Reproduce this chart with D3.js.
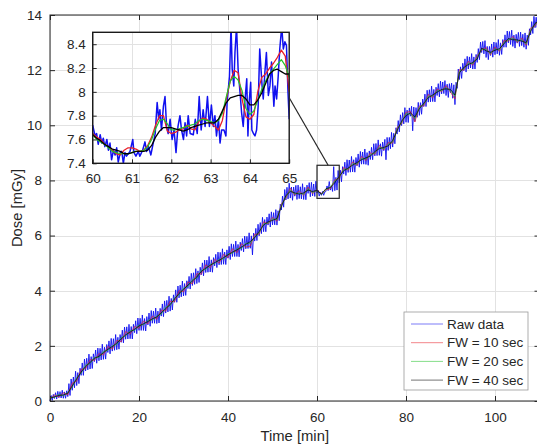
<!DOCTYPE html>
<html>
<meta charset="utf-8">
<style>
  body { margin: 0; background: #fff; }
  svg { display: block; font-family: "Liberation Sans", Arial, sans-serif; }
  .axis text { fill: #262626; font-size: 13.5px; }
  .axis line { stroke: #262626; }
  .axis path { display: none; }
  .grid line { stroke: #e2e2e2; shape-rendering: crispEdges; }
  .grid path { display: none; }
  .trace { fill: none; stroke-linejoin: round; }
</style>
<body>
<svg width="537" height="445"></svg>

<script src="https://d3js.org/d3.v7.min.js"></script>
<script>

// ---- data ----
var xTicks = [0, 20, 40, 60, 80, 100];
var yTicks = [0, 2, 4, 6, 8, 10, 12, 14];
var insetXTicks = [60, 61, 62, 63, 64, 65];
var insetYTicks = [7.4, 7.6, 7.8, 8, 8.2, 8.4];
var legendLabels = ["Raw data", "FW = 10 sec", "FW = 20 sec", "FW = 40 sec"];
var seriesColors = ["#1010f0", "#e8202a", "#22c22a", "#000000"];

// raw dose, one value every 0.25 min from 0 to 110 min (4 per row = 1 min)
var rawDose = [
  0.00,0.20,0.02,0.24, 0.09,0.30,0.07,0.35, 0.12,0.34,0.11,0.39, 0.10,0.33,0.10,0.37,
  0.16,0.63,0.20,0.80, 0.39,0.87,0.48,1.08, 0.56,1.03,0.63,1.19, 0.93,1.38,0.93,1.52,
  1.09,1.55,1.13,1.70, 1.16,1.61,1.18,1.71, 1.43,1.85,1.37,1.92, 1.46,1.91,1.49,2.06,
  1.51,1.95,1.52,2.05, 1.76,2.18,1.71,2.27, 1.81,2.26,1.84,2.41, 1.86,2.31,1.88,2.41,
  2.13,2.57,2.11,2.68, 2.24,2.69,2.25,2.78, 2.26,2.70,2.25,2.78, 2.48,2.91,2.44,3.01,
  2.56,3.00,2.56,3.12, 2.56,2.99,2.54,3.06, 2.76,3.19,2.71,3.28, 2.82,3.26,2.82,3.37,
  2.81,3.26,2.83,3.36, 3.08,3.52,3.06,3.63, 3.19,3.65,3.23,3.80, 3.26,3.72,3.30,3.85,
  3.58,4.03,3.58,4.17, 3.74,4.20,3.78,4.35, 3.81,4.26,3.83,4.36, 4.08,4.52,4.06,4.63,
  4.19,4.65,4.23,4.80, 4.26,4.72,4.30,4.85, 4.58,5.01,4.54,5.11, 4.66,5.11,4.67,5.24,
  4.68,5.12,4.67,5.20, 4.90,5.32,4.84,5.40, 4.94,5.39,4.95,5.52, 4.96,5.40,4.95,5.48,
  5.18,5.61,5.13,5.70, 5.24,5.68,5.24,5.80, 5.24,5.68,5.23,5.76, 5.46,5.89,5.41,5.98,
  5.52,5.97,5.53,6.10, 5.54,5.99,5.30,6.09, 5.80,6.26,5.82,6.41, 5.99,6.47,6.07,6.66,
  6.14,6.58,6.14,6.67, 6.38,6.79,6.31,6.86, 6.39,6.83,6.39,6.94, 6.38,6.90,6.54,7.14,
  6.93,7.43,7.03,7.67, 7.29,7.75,7.33,7.90, 7.36,7.76,7.28,7.76, 7.43,7.82,7.31,7.83,
  7.34,7.77,7.33,7.88, 7.31,7.75,7.30,7.83, 7.53,7.92,7.41,7.93, 7.44,7.87,7.42,7.97,
  7.54,7.65,7.43,7.57, 7.46,7.60,7.46,7.58, 7.60,7.80,7.63,7.96, 7.65,7.80,7.60,8.50,
  7.63,8.11,7.65,8.36, 7.91,8.37,7.95,8.50, 8.23,8.66,8.18,8.75, 8.29,8.74,8.30,8.87,
  8.31,8.75,8.30,8.83, 8.53,8.96,8.48,9.05, 8.59,9.03,8.59,9.14, 8.58,9.01,8.55,9.07,
  8.76,9.20,8.75,9.33, 8.89,9.34,8.90,9.47, 8.91,9.33,8.88,9.39, 9.08,9.49,8.75,9.56,
  9.09,9.56,9.15,9.74, 9.21,9.71,9.33,9.91, 9.68,10.17,9.76,10.38, 9.99,10.46,10.05,10.64,
  10.11,10.55,10.10,10.63, 10.33,10.69,9.80,10.66, 10.14,10.64,10.29,10.83, 10.36,10.82,10.40,10.95,
  10.68,11.13,10.68,11.27, 10.84,11.29,10.85,11.42, 10.86,11.30,10.85,11.38, 11.08,11.51,11.03,11.60,
  11.14,11.57,11.15,11.62, 11.08,11.49,11.01,11.51, 11.18,11.53,10.98,11.47, 10.75,11.56,11.34,12.04,
  11.66,12.12,11.70,12.25, 11.98,12.41,11.93,12.50, 12.04,12.48,12.08,12.60, 12.04,12.48,12.04,12.57,
  12.28,12.78,12.38,13.02, 12.64,13.04,12.59,13.07, 12.46,12.86,12.38,12.86, 12.53,12.95,12.47,13.02,
  12.56,13.00,12.59,13.11, 12.54,12.99,12.57,13.11, 12.83,13.28,12.83,13.42, 12.99,13.40,12.93,13.45,
  12.86,13.27,12.80,13.30, 12.98,13.37,12.86,13.38, 12.89,13.30,12.83,13.35, 12.76,13.27,12.90,13.50,
  13.28,13.76,13.33,13.95, 13.54,13.92,13.55,13.98,
  13.70
];

// filtered dose, one value per minute from 0 to 110 min
var fw10 = [
  0.08,0.22,0.14,0.30,0.22,0.65,0.72,1.15,1.17,1.50,
  1.47,1.72,1.67,1.98,1.88,2.20,2.15,2.52,2.42,2.70,
  2.64,2.90,2.80,3.08,2.96,3.30,3.26,3.62,3.60,4.00,
  3.96,4.32,4.25,4.62,4.60,4.94,4.83,5.14,5.00,5.32,
  5.20,5.52,5.38,5.70,5.58,5.62,6.05,6.05,6.50,6.42,
  6.66,6.52,7.15,7.35,7.72,7.46,7.62,7.46,7.76,7.52,
  7.66,7.52,7.66,7.70,8.02,8.08,8.47,8.37,8.67,8.55,
  8.87,8.72,9.00,8.95,9.27,9.10,9.37,9.35,9.92,10.05,
  10.47,10.50,10.12,10.70,10.70,11.12,11.00,11.32,11.22,11.44,
  11.20,10.95,12.02,12.00,12.32,12.18,12.52,12.72,12.82,12.55,
  12.84,12.68,13.07,13.05,13.22,13.00,13.17,12.90,13.52,13.60,
  13.90
];
var fw20 = [
  0.12,0.13,0.24,0.19,0.31,0.50,0.85,1.01,1.30,1.36,
  1.58,1.58,1.80,1.84,2.00,2.05,2.30,2.36,2.55,2.56,
  2.76,2.76,2.93,2.94,3.08,3.15,3.40,3.46,3.74,3.85,
  4.09,4.15,4.40,4.46,4.74,4.77,4.96,4.98,5.14,5.15,
  5.34,5.36,5.52,5.53,5.72,5.72,5.96,6.10,6.42,6.45,
  6.60,6.58,7.10,7.40,7.65,7.51,7.54,7.50,7.70,7.56,
  7.64,7.49,7.68,7.76,7.98,8.12,8.40,8.41,8.60,8.60,
  8.79,8.78,8.93,9.00,9.20,9.15,9.30,9.40,9.85,10.10,
  10.42,10.40,10.25,10.65,10.76,11.05,11.06,11.25,11.26,11.36,
  11.25,11.05,11.95,12.05,12.25,12.24,12.45,12.76,12.75,12.60,
  12.77,12.73,13.00,13.10,13.15,13.05,13.10,12.95,13.45,13.66,
  13.84
];
var fw40 = [
  0.10,0.15,0.20,0.22,0.28,0.55,0.80,1.05,1.25,1.40,
  1.55,1.62,1.75,1.88,1.97,2.10,2.25,2.40,2.50,2.60,
  2.72,2.80,2.88,2.98,3.05,3.20,3.35,3.50,3.70,3.90,
  4.05,4.20,4.35,4.50,4.70,4.82,4.92,5.02,5.10,5.20,
  5.30,5.40,5.48,5.58,5.68,5.78,5.92,6.15,6.38,6.50,
  6.55,6.62,7.05,7.45,7.60,7.55,7.50,7.55,7.65,7.60,
  7.64,7.50,7.70,7.74,7.92,8.15,8.35,8.45,8.55,8.65,
  8.75,8.82,8.88,9.05,9.15,9.20,9.25,9.45,9.80,10.15,
  10.35,10.45,10.30,10.60,10.80,11.00,11.10,11.20,11.30,11.32,
  11.30,11.10,11.90,12.10,12.20,12.28,12.40,12.80,12.70,12.65,
  12.72,12.78,12.95,13.15,13.10,13.10,13.05,13.00,13.40,13.70,
  13.80
];

// zoomed window 60-65 min: raw samples [time, dose]
var insetRaw = [
  [60.00,7.72],[60.06,7.63],[60.10,7.65],[60.14,7.56],[60.19,7.64],[60.23,7.57],[60.27,7.61],[60.31,7.54],
  [60.36,7.60],[60.40,7.51],[60.44,7.57],[60.48,7.43],[60.53,7.51],[60.57,7.47],[60.61,7.53],[60.65,7.41],
  [60.70,7.49],[60.74,7.50],[60.78,7.40],[60.82,7.49],[60.86,7.46],[60.95,7.50],[61.02,7.60],[61.05,7.49],
  [61.10,7.46],[61.16,7.50],[61.20,7.46],[61.27,7.51],[61.33,7.58],[61.37,7.50],[61.42,7.54],[61.48,7.47],
  [61.54,7.57],[61.59,7.65],[61.64,7.91],[61.68,7.77],[61.71,7.85],[61.75,7.68],[61.80,7.88],[61.84,7.96],
  [61.88,7.71],[61.92,7.65],[61.97,7.77],[62.02,7.60],[62.07,7.68],[62.12,7.49],[62.17,7.71],[62.22,7.80],
  [62.26,7.68],[62.31,7.60],[62.35,7.74],[62.39,7.63],[62.43,7.80],[62.48,7.65],[62.56,7.64],[62.61,7.77],
  [62.66,7.65],[62.71,7.96],[62.76,7.68],[62.81,7.85],[62.86,7.71],[62.92,7.96],[62.97,7.71],[63.02,7.89],
  [63.07,7.71],[63.11,7.80],[63.15,7.63],[63.20,7.77],[63.24,7.57],[63.28,7.68],[63.34,7.68],[63.39,7.63],
  [63.42,7.91],[63.48,8.13],[63.52,8.55],[63.55,8.19],[63.59,8.05],[63.62,8.33],[63.66,8.55],[63.70,8.19],
  [63.75,7.99],[63.79,7.82],[63.83,7.71],[63.87,7.91],[63.92,8.11],[63.95,7.63],[63.98,7.91],[64.02,8.08],
  [64.05,7.68],[64.09,7.65],[64.13,7.63],[64.17,7.68],[64.21,7.88],[64.25,8.36],[64.31,8.05],[64.34,7.94],
  [64.38,8.16],[64.42,8.33],[64.47,7.97],[64.51,8.05],[64.55,8.25],[64.61,7.88],[64.64,8.05],[64.68,7.94],
  [64.72,8.13],[64.76,8.36],[64.81,8.55],[64.85,8.36],[64.89,8.42],[64.93,8.39],[64.97,7.99],[65.00,7.77]
];
// zoomed window filtered values, one every 0.1 min from 60 to 65
var insetFw10 = [
  7.65,7.62,7.60,7.56,7.54,7.51,7.48,7.47,7.51,7.53,
  7.53,7.52,7.50,7.51,7.55,7.62,7.72,7.80,7.80,7.67,
  7.65,7.66,7.68,7.69,7.72,7.69,7.68,7.75,7.78,7.77,
  7.74,7.71,7.68,7.76,7.94,8.09,8.18,8.16,7.94,7.79,
  7.77,7.81,8.00,8.12,8.15,8.20,8.24,8.29,8.35,8.30,
  8.00
];
var insetFw20 = [
  7.64,7.60,7.58,7.56,7.53,7.50,7.49,7.48,7.48,7.48,
  7.49,7.50,7.50,7.51,7.54,7.60,7.69,7.76,7.77,7.73,
  7.68,7.68,7.69,7.70,7.71,7.72,7.73,7.76,7.77,7.76,
  7.75,7.74,7.76,7.82,7.96,8.09,8.13,8.10,8.01,7.86,
  7.81,7.84,7.93,8.02,8.09,8.15,8.19,8.23,8.27,8.22,
  8.12
];
var insetFw40 = [
  7.64,7.61,7.59,7.56,7.54,7.52,7.51,7.50,7.48,7.48,
  7.49,7.50,7.50,7.50,7.51,7.55,7.62,7.67,7.70,7.70,
  7.70,7.69,7.68,7.67,7.68,7.70,7.71,7.72,7.73,7.74,
  7.74,7.74,7.77,7.84,7.91,7.95,7.96,7.97,7.97,7.94,
  7.89,7.89,7.93,7.99,8.07,8.15,8.18,8.19,8.17,8.15,
  8.15
];
var zoomBox = {x: [60, 65], y: [7.35, 8.55]};

// ---- layout ----
var svg = d3.select("svg");
var mLeft = 50, mTop = 15, width = 489.5, height = 386;

var xScale = d3.scaleLinear().domain([0, 110]).range([mLeft, mLeft + width]);
var yScale = d3.scaleLinear().domain([0, 14]).range([mTop + height, mTop]);

var rawT = rawDose.map(function(d, i) { return i * 0.25; });
var fwT = fw40.map(function(d, i) { return i; });

// GRID
svg.append("g").attr("class", "grid")
  .attr("transform", "translate(0," + (mTop + height) + ")")
  .call(d3.axisBottom(xScale).tickValues(xTicks).tickSize(-height).tickFormat(""));
svg.append("g").attr("class", "grid")
  .attr("transform", "translate(" + mLeft + ",0)")
  .call(d3.axisLeft(yScale).tickValues(yTicks).tickSize(-width).tickFormat(""));

// LINES
function drawSeries(g, xs, ys, xsc, ysc, color, w) {
  var line = d3.line()
    .x(function(d, i) { return xsc(xs[i]); })
    .y(function(d) { return ysc(d); });
  g.append("path").datum(ys)
    .attr("class", "trace")
    .attr("d", line)
    .attr("stroke", color)
    .attr("stroke-width", w);
}

drawSeries(svg, rawT, rawDose, xScale, yScale, seriesColors[0], 0.9);
drawSeries(svg, fwT, fw10, xScale, yScale, seriesColors[1], 0.7);
drawSeries(svg, fwT, fw20, xScale, yScale, seriesColors[2], 0.7);
drawSeries(svg, fwT, fw40, xScale, yScale, seriesColors[3], 0.7);

// AXES (ticks inside, box on)
var xAxis = svg.append("g").attr("class", "axis")
  .attr("transform", "translate(0," + (mTop + height) + ")")
  .call(d3.axisBottom(xScale).tickValues(xTicks).tickSize(-5).tickPadding(8).tickFormat(d3.format("d")));
xAxis.selectAll("text").attr("dy", "0.95em");
svg.append("g").attr("class", "axis")
  .attr("transform", "translate(0," + mTop + ")")
  .call(d3.axisTop(xScale).tickValues(xTicks).tickSize(-5).tickFormat(""));
svg.append("g").attr("class", "axis")
  .attr("transform", "translate(" + mLeft + ",0)")
  .call(d3.axisLeft(yScale).tickValues(yTicks).tickSize(-5).tickPadding(8).tickFormat(d3.format("d")));
svg.append("g").attr("class", "axis")
  .attr("transform", "translate(" + (mLeft + width) + ",0)")
  .call(d3.axisRight(yScale).tickValues(yTicks).tickSize(-5).tickFormat(""));

svg.append("rect")
  .attr("x", mLeft).attr("y", mTop)
  .attr("width", width).attr("height", height)
  .attr("fill", "none").attr("stroke", "#262626").attr("stroke-width", 1);

svg.append("text")
  .attr("x", xScale(55)).attr("y", 441)
  .attr("text-anchor", "middle")
  .attr("fill", "#262626").attr("font-size", "14.8px")
  .text("Time [min]");
svg.append("text")
  .attr("transform", "translate(22," + yScale(7) + ") rotate(-90)")
  .attr("text-anchor", "middle")
  .attr("fill", "#262626").attr("font-size", "14.8px")
  .text("Dose [mGy]");

// ZOOM BOX + CONNECTOR
var zb = {
  x0: xScale(zoomBox.x[0]), x1: xScale(zoomBox.x[1]),
  y0: yScale(zoomBox.y[1]), y1: yScale(zoomBox.y[0])
};
svg.append("rect")
  .attr("x", zb.x0).attr("y", zb.y0)
  .attr("width", zb.x1 - zb.x0).attr("height", zb.y1 - zb.y0)
  .attr("fill", "none").attr("stroke", "#262626").attr("stroke-width", 1.2);

// INSET
var inset = {left: 92.7, top: 32.3, width: 196.5, height: 131};
var ix = d3.scaleLinear().domain([60, 65]).range([inset.left, inset.left + inset.width]);
var iy = d3.scaleLinear().domain([7.4, 8.5]).range([inset.top + inset.height, inset.top]);

svg.append("line")
  .attr("x1", inset.left + inset.width).attr("y1", inset.top + inset.height / 2)
  .attr("x2", (zb.x0 + zb.x1) / 2).attr("y2", zb.y0)
  .attr("stroke", "#262626").attr("stroke-width", 1.2);

svg.append("rect")
  .attr("x", inset.left).attr("y", inset.top)
  .attr("width", inset.width).attr("height", inset.height)
  .attr("fill", "#fff");

svg.append("clipPath").attr("id", "insetClip")
  .append("rect")
  .attr("x", inset.left).attr("y", inset.top)
  .attr("width", inset.width).attr("height", inset.height);

svg.append("g").attr("class", "grid")
  .attr("transform", "translate(0," + (inset.top + inset.height) + ")")
  .call(d3.axisBottom(ix).tickValues(insetXTicks).tickSize(-inset.height).tickFormat(""));
svg.append("g").attr("class", "grid")
  .attr("transform", "translate(" + inset.left + ",0)")
  .call(d3.axisLeft(iy).tickValues(insetYTicks).tickSize(-inset.width).tickFormat(""));

var ig = svg.append("g").attr("clip-path", "url(#insetClip)");
var insetT = insetFw40.map(function(d, i) { return 60 + i / 10; });
drawSeries(ig, insetRaw.map(function(d) { return d[0]; }), insetRaw.map(function(d) { return d[1]; }),
  ix, iy, seriesColors[0], 1.5);
drawSeries(ig, insetT, insetFw10, ix, iy, seriesColors[1], 1.3);
drawSeries(ig, insetT, insetFw20, ix, iy, seriesColors[2], 1.2);
drawSeries(ig, insetT, insetFw40, ix, iy, seriesColors[3], 1.3);

var ixAxis = svg.append("g").attr("class", "axis")
  .attr("transform", "translate(0," + (inset.top + inset.height) + ")")
  .call(d3.axisBottom(ix).tickValues(insetXTicks).tickSize(-4).tickPadding(7).tickFormat(d3.format("d")));
ixAxis.selectAll("text").attr("dy", "0.95em");
svg.append("g").attr("class", "axis")
  .attr("transform", "translate(" + inset.left + ",0)")
  .call(d3.axisLeft(iy).tickValues(insetYTicks).tickSize(-4).tickPadding(7)
    .tickFormat(function(d) { return String(+d.toFixed(1)); }));

svg.append("rect")
  .attr("x", inset.left).attr("y", inset.top)
  .attr("width", inset.width).attr("height", inset.height)
  .attr("fill", "none").attr("stroke", "#1a1a1a").attr("stroke-width", 1.4);

// LEGEND
var legend = svg.append("g").attr("transform", "translate(404,312)");
legend.append("rect")
  .attr("width", 124).attr("height", 78)
  .attr("fill", "#fff").attr("stroke", "#9a9a9a").attr("stroke-width", 0.8);
legendLabels.forEach(function(label, i) {
  var yy = 12 + i * 18.7;
  legend.append("line")
    .attr("x1", 7).attr("x2", 39).attr("y1", yy).attr("y2", yy)
    .attr("stroke", seriesColors[i]).attr("stroke-opacity", 0.55).attr("stroke-width", 1);
  legend.append("text")
    .attr("x", 43).attr("y", yy).attr("dy", "0.35em")
    .attr("fill", "#262626").attr("font-size", "13.5px")
    .text(label);
});

</script>
</body>
</html>
